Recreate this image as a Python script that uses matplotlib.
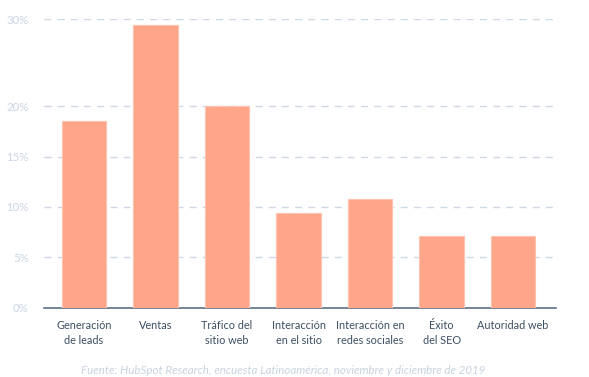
import numpy as np
import matplotlib
matplotlib.use("Agg")
import matplotlib.pyplot as plt

categories = ["Generación\nde leads", "Ventas", "Tráfico del\nsitio web",
              "Interacción\nen el sitio", "Interacción en\nredes sociales",
              "Éxito\ndel SEO", "Autoridad web"]
values = [18.5, 29.4, 20.0, 9.4, 10.8, 7.1, 7.1]
yticks = [0, 5, 10, 15, 20, 30]
ytick_labels = ["0%", "5%", "10%", "15%", "20%", "30%"]
source = "Fuente: HubSpot Research, encuesta Latinoamérica, noviembre y diciembre de 2019"

plt.rcParams['font.family'] = ['Lato', 'DejaVu Sans']

K = 0.865
def fwd(v):
    v = np.asarray(v, dtype=float)
    return np.where(v <= 20, v, 20 + (v - 20) * K)
def inv(u):
    u = np.asarray(u, dtype=float)
    return np.where(u <= 20, u, 20 + (u - 20) / K)

fig = plt.figure(figsize=(5.89, 3.77), dpi=100)
ax = fig.add_axes([44/589, 1 - 307.5/377, (556-44)/589, (307.5-19.3)/377])
ax.set_yscale('function', functions=(fwd, inv))

x = np.arange(len(categories))
ax.bar(x, values, width=0.62, color="#ffa68a", edgecolor="#ffc2ae", linewidth=0.8, zorder=3)

ax.set_xlim(-0.56, len(categories) - 1 + 0.6)
ax.set_ylim(0, 30)
ax.set_yticks(yticks)
ax.set_yticklabels(ytick_labels)
ax.set_xticks(x)
ax.set_xticklabels(categories, fontsize=7.8, color="#3d4f63", linespacing=1.45)
ax.tick_params(axis='x', length=0, pad=9)
ax.tick_params(axis='y', length=0, pad=11, labelsize=8.2, labelcolor="#cbd5e4")

for t in yticks[1:]:
    ax.axhline(t, color="#cdd7e6", linewidth=1.0, dashes=(5, 4.5), zorder=1)

for s in ["top", "right", "left"]:
    ax.spines[s].set_visible(False)
ax.spines["bottom"].set_color("#5a6e8a")
ax.spines["bottom"].set_linewidth(1.2)

fig.text(283/589, 1 - 370/377, source, ha="center", va="center", fontsize=8.3,
         style="italic", color="#c8d2e0")

fig.savefig("out.png", dpi=100)
